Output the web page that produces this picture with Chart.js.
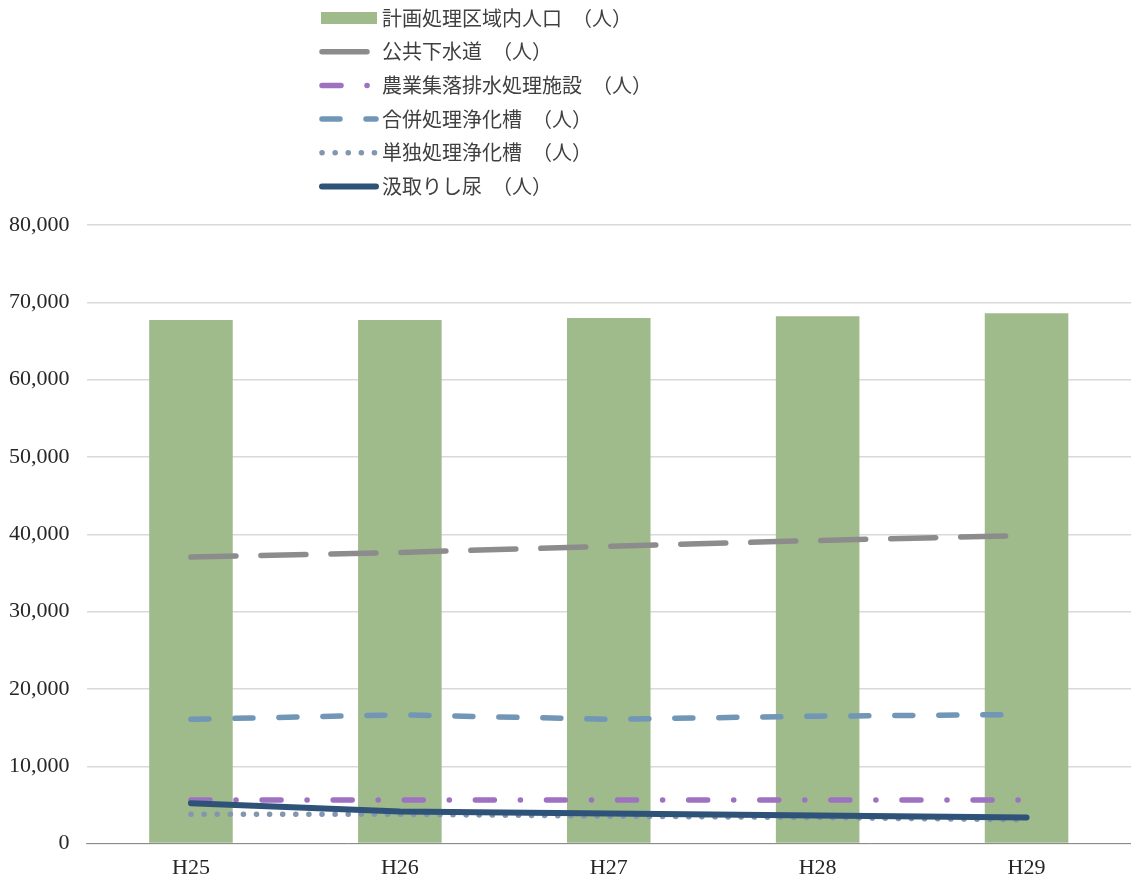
<!DOCTYPE html>
<html lang="ja">
<head>
<meta charset="utf-8">
<script src="https://cdn.jsdelivr.net/npm/chart.js@4/dist/chart.umd.min.js"></script>
<style>
  html, body { margin: 0; padding: 0; background: #fff; }
  #wrap { position: relative; width: 1131px; height: 879px; }
</style>
</head>
<body>
<div id="wrap"><canvas id="chartSeikatsu"></canvas></div>
<script>
// 年度
const nendo = ['H25', 'H26', 'H27', 'H28', 'H29'];

// 人口（人）
const keikakuKuiki = [67700, 67720, 67960, 68200, 68580];
const koukyouGesui = [37050, 37650, 38450, 39200, 39850];
const nougyouShuraku = [5650, 5650, 5650, 5650, 5650];
const gappeiJouka = [16080, 16650, 16080, 16480, 16700];
const tandokuJouka = [3790, 3790, 3550, 3370, 3080];
const kumitori = [5220, 4140, 3880, 3620, 3370];

const yTicks = [0, 10000, 20000, 30000, 40000, 50000, 60000, 70000, 80000];

const fuenteNum = 'Century, "Liberation Serif", "DejaVu Serif", serif';
const fuenteJp = '"Noto Sans CJK JP", "Noto Sans", sans-serif';

// 凡例（縦一列）を自前で描く
const leyendaVertical = {
    id: 'leyendaVertical',
    afterDraw(chart) {
        const ctx = chart.ctx;
        const x0 = 321, x1 = 377, tx = 382;
        const y0 = 18, paso = 33.7;
        ctx.save();
        chart.data.datasets.forEach((ds, i) => {
            const y = y0 + paso * i;
            if (ds.type === 'bar') {
                ctx.fillStyle = ds.backgroundColor;
                ctx.fillRect(x0, y - 6, x1 - x0, 12);
            } else {
                ctx.beginPath();
                ctx.strokeStyle = ds.borderColor;
                ctx.lineWidth = ds.borderWidth;
                ctx.lineCap = 'round';
                ctx.setLineDash(ds.legendDash || []);
                ctx.moveTo(x0 + 1, y);
                ctx.lineTo(x1 - 1, y);
                ctx.stroke();
                ctx.setLineDash([]);
            }
            ctx.fillStyle = '#404040';
            ctx.font = '20px ' + fuenteJp;
            ctx.textBaseline = 'middle';
            ctx.textAlign = 'left';
            ctx.fillText(ds.label, tx, y);
        });
        ctx.restore();
    }
};

function lineaDs(label, data, color, ancho, dash, orden) {
    return {
        type: 'line',
        label: label,
        data: data,
        borderColor: color,
        backgroundColor: color,
        borderWidth: ancho,
        borderDash: dash,
        borderCapStyle: 'round',
        legendDash: dash,
        pointRadius: 0,
        tension: 0,
        fill: false,
        order: orden
    };
}

new Chart(document.getElementById('chartSeikatsu'), {
    data: {
        labels: nendo,
        datasets: [
            {
                type: 'bar',
                label: '計画処理区域内人口　（人）',
                data: keikakuKuiki,
                backgroundColor: '#9fbb8c',
                barPercentage: 0.4,
                categoryPercentage: 1.0,
                order: 10
            },
            lineaDs('公共下水道　（人）', koukyouGesui, '#8c8c8c', 5.5, [45, 25], 5),
            lineaDs('農業集落排水処理施設　（人）', nougyouShuraku, '#9e72c0', 5.5, [19, 26, 0.1, 26], 4),
            lineaDs('合併処理浄化槽　（人）', gappeiJouka, '#7196b6', 5.5, [18, 26], 3),
            lineaDs('単独処理浄化槽　（人）', tandokuJouka, '#8396b0', 5.5, [0.1, 13], 2),
            lineaDs('汲取りし尿　（人）', kumitori, '#2f5378', 6, [], 1)
        ]
    },
    options: {
        responsive: true,
        maintainAspectRatio: false,
        animation: false,
        layout: { padding: { top: 225, left: -8, right: 0, bottom: -13 } },
        plugins: {
            legend: { display: false },
            tooltip: { enabled: false }
        },
        scales: {
            x: {
                grid: { display: false, drawTicks: false },
                border: { display: true, color: '#8c8c8c', width: 1 },
                ticks: { color: '#262626', font: { family: fuenteNum, size: 22 }, padding: 11 }
            },
            y: {
                min: 0,
                max: 80000,
                afterBuildTicks(axis) { axis.ticks = yTicks.map(v => ({ value: v })); },
                grid: { color: '#d9d9d9', lineWidth: 1.5, drawTicks: false },
                border: { display: false },
                ticks: {
                    color: '#262626',
                    font: { family: fuenteNum, size: 22 },
                    padding: 17,
                    callback: v => v.toLocaleString('en-US')
                }
            }
        }
    },
    plugins: [leyendaVertical]
});
</script>
</body>
</html>
